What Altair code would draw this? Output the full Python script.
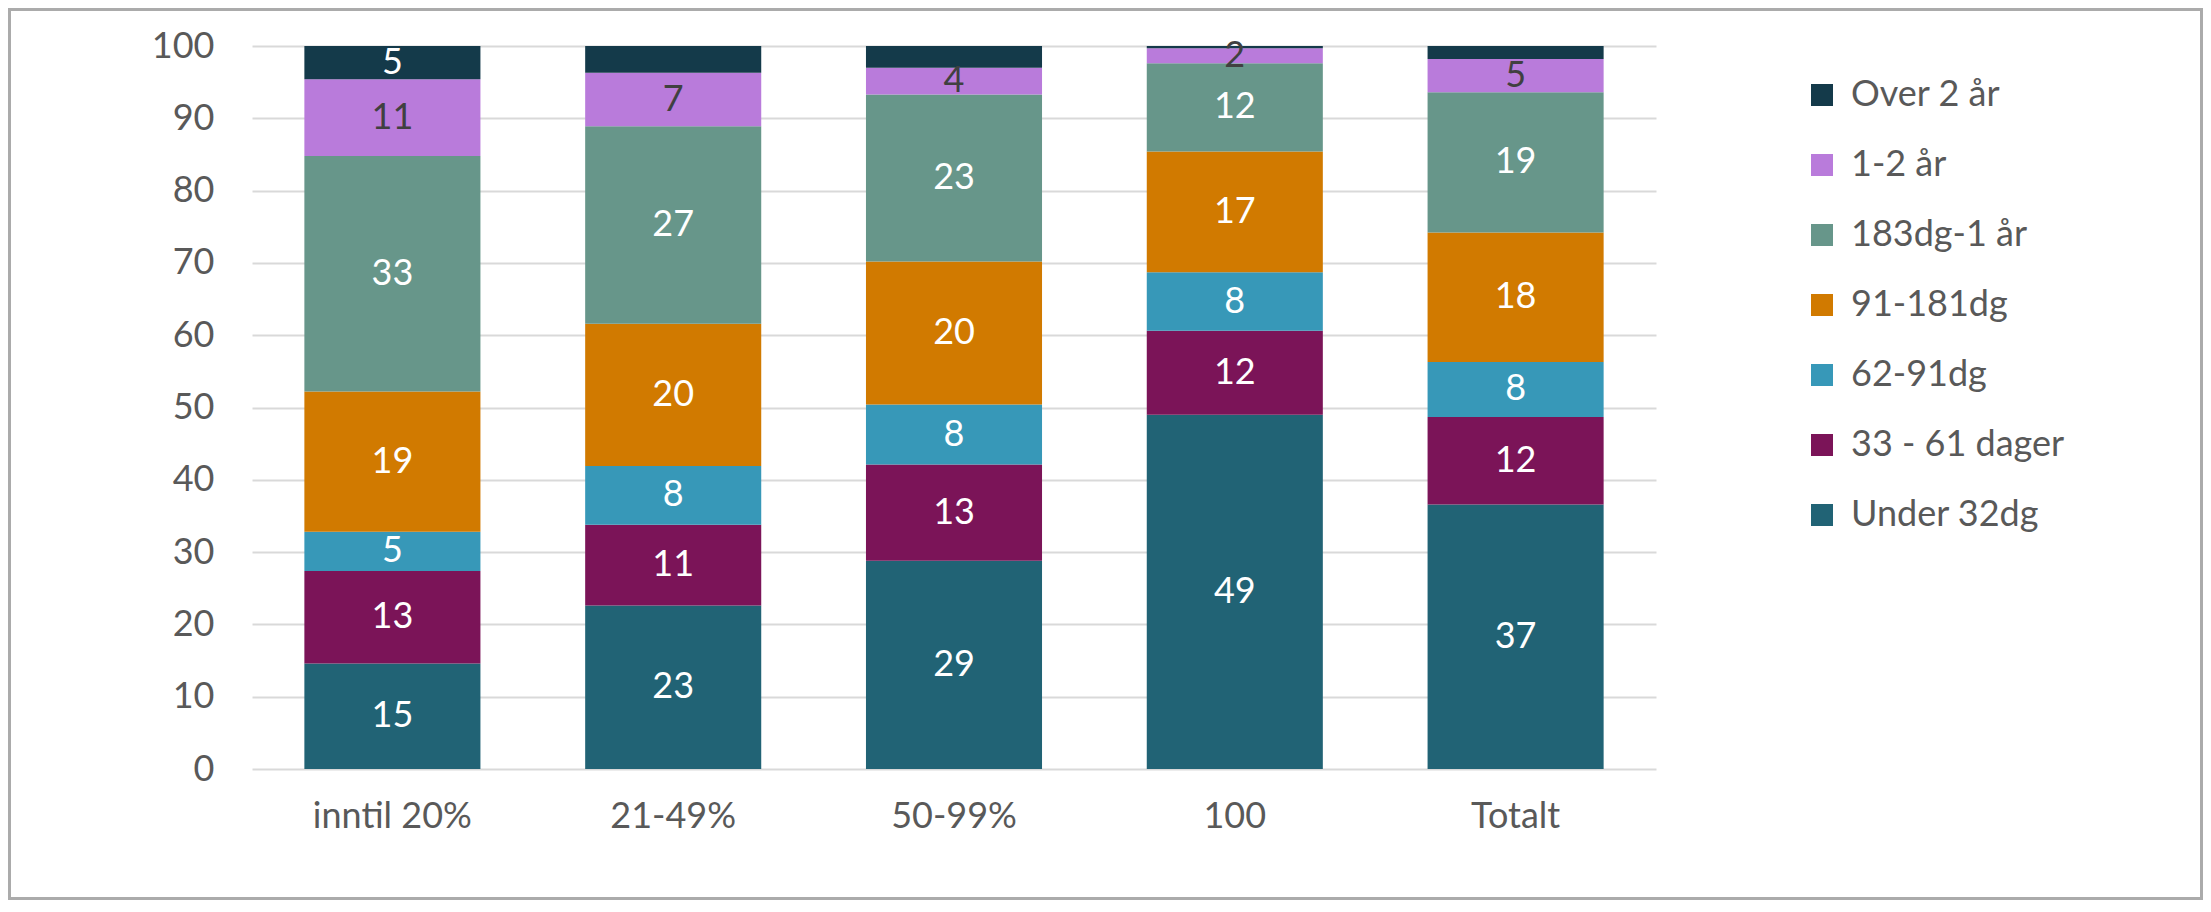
import altair as alt
import pandas as pd

# Categories (x axis)
categories = ["inntil 20%", "21-49%", "50-99%", "100", "Totalt"]

# Series, from bottom of the stack to the top
series = ["Under 32dg", "33 - 61 dager", "62-91dg", "91-181dg", "183dg-1 år", "1-2 år", "Over 2 år"]

under_32 = [14.6, 22.6, 28.8, 49.0, 36.6]
d33_61 = [12.8, 11.2, 13.3, 11.6, 12.1]
d62_91 = [5.4, 8.1, 8.3, 8.1, 7.6]
d91_181 = [19.4, 19.7, 19.8, 16.7, 17.9]
d183_1aar = [32.6, 27.3, 23.1, 12.2, 19.4]
aar_1_2 = [10.6, 7.4, 3.7, 2.1, 4.6]
over_2 = [4.6, 3.7, 3.0, 0.3, 1.8]

values = [under_32, d33_61, d62_91, d91_181, d183_1aar, aar_1_2, over_2]

# which data labels are shown (the "Over 2 år" labels only on the first bar)
shown = [
    [True] * 5,
    [True] * 5,
    [True] * 5,
    [True] * 5,
    [True] * 5,
    [True] * 5,
    [True, False, False, False, False],
]

series_colors = ["#216375", "#7B1458", "#3798B8", "#D17A00", "#67968A", "#B97BDB", "#143A4A"]
label_colors = ["#FFFFFF", "#FFFFFF", "#FFFFFF", "#FFFFFF", "#FFFFFF", "#404040", "#FFFFFF"]

rows = []
for si, s in enumerate(series):
    for ci, c in enumerate(categories):
        rows.append({
            "cat": c,
            "series": s,
            "idx": si,
            "value": values[si][ci],
            "show": shown[si][ci],
            "lc": label_colors[si],
        })
df = pd.DataFrame(rows)

legend_order = series[::-1]
legend_colors = series_colors[::-1]

FONT = "Lato"
FS = 36

x_enc = alt.X(
    "cat:N",
    sort=categories,
    title=None,
    scale=alt.Scale(paddingInner=0.373, paddingOuter=0.1865),
    axis=alt.Axis(
        labelAngle=0, domain=False, ticks=False, labelPadding=30,
        labelFont=FONT, labelFontSize=FS, labelColor="#595959",
    ),
)

base = alt.Chart(df).transform_stack(
    stack="value",
    groupby=["cat"],
    as_=["y0", "y1"],
    sort=[alt.SortField("idx", order="ascending")],
).transform_calculate(mid="(datum.y0 + datum.y1) / 2")

bars = base.mark_bar().encode(
    x=x_enc,
    y=alt.Y(
        "y1:Q",
        scale=alt.Scale(domain=[0, 100], nice=False),
        title=None,
        axis=alt.Axis(
            values=list(range(0, 101, 10)), grid=True, gridColor="#D9D9D9", gridWidth=2,
            domain=False, ticks=False, labelPadding=38,
            labelFont=FONT, labelFontSize=FS, labelColor="#595959",
        ),
    ),
    y2="y0:Q",
    color=alt.Color(
        "series:N",
        scale=alt.Scale(domain=legend_order, range=legend_colors),
        legend=alt.Legend(
            title=None, orient="none", legendX=1552, legendY=31,
            symbolType="square", symbolSize=484, symbolStrokeWidth=0,
            labelFont=FONT, labelFontSize=FS, labelColor="#595959",
            labelOffset=11, rowPadding=34, padding=0, labelLimit=0,
        ),
    ),
)

labels = base.transform_filter("datum.show").mark_text(
    font=FONT, fontSize=FS, baseline="middle", align="center"
).encode(
    x=alt.X("cat:N", sort=categories),
    y=alt.Y("mid:Q"),
    text=alt.Text("value:Q", format=".0f"),
    color=alt.Color("lc:N", scale=None),
)

frame = alt.Chart(pd.DataFrame({"a": [0]})).mark_rect(
    fillOpacity=0, stroke="#ABABAB", strokeWidth=3
).encode(
    x=alt.value(-242.5), x2=alt.value(1949.5),
    y=alt.value(-36.5), y2=alt.value(852.5),
)

chart = alt.layer(bars, labels, frame).properties(
    width=1404,
    height=723,
    padding={"left": 244, "top": 38, "right": 547, "bottom": 131},
    autosize=alt.AutoSizeParams(type="none"),
    background="white",
).configure_view(stroke=None)

chart.save("out.html", embed_options={"renderer": "svg", "actions": False})
